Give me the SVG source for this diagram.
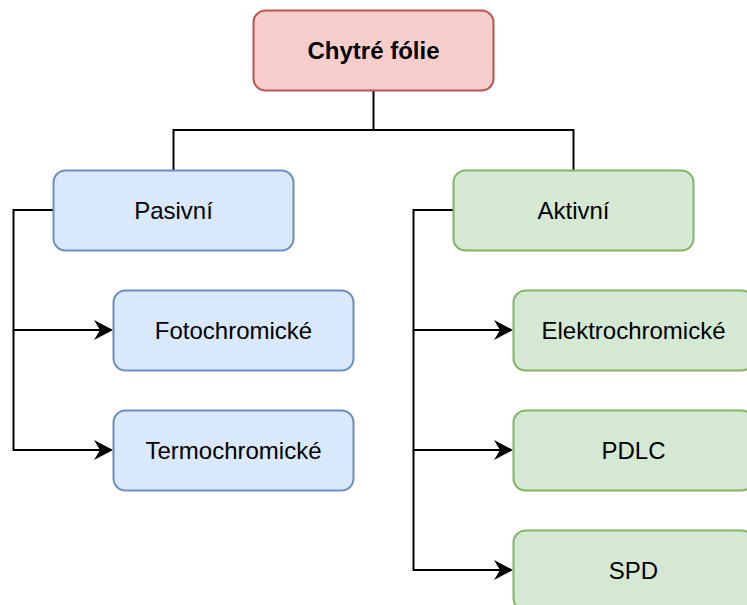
<svg xmlns="http://www.w3.org/2000/svg" width="747" height="605" viewBox="0 0 747 605">
  <style>
    .box { stroke-width: 2; }
    .red { fill: #f8cecc; stroke: #b85450; }
    .blue { fill: #dae8fc; stroke: #6c8ebf; }
    .green { fill: #d5e8d4; stroke: #82b366; }
    .lbl { font-family: "Liberation Sans", Arial, Helvetica, sans-serif; font-size: 24px; fill: #000; text-anchor: middle; }
    .bold { font-weight: bold; }
    .edge { fill: none; stroke: #000; stroke-width: 2; }
  </style>
  <defs>
    <marker id="arrow" markerUnits="userSpaceOnUse" markerWidth="20" markerHeight="22" viewBox="0 0 20 22" refX="6" refY="11" orient="auto">
      <path d="M0,1 L19,11 L0,21 L6,11 Z" fill="#000"/>
    </marker>
  </defs>
  <rect width="747" height="605" fill="#fff"/>

  <g id="connectors">
    <path class="edge" d="M373.5,90 V130 M173.5,170 V130 H573.5 V170"/>
    <path class="edge" d="M53,210 H13.5 V330 H100" marker-end="url(#arrow)"/>
    <path class="edge" d="M13.5,330 V450 H100" marker-end="url(#arrow)"/>
    <path class="edge" d="M453,210 H413.5 V330 H500" marker-end="url(#arrow)"/>
    <path class="edge" d="M413.5,330 V450 H500" marker-end="url(#arrow)"/>
    <path class="edge" d="M413.5,450 V570 H500" marker-end="url(#arrow)"/>
  </g>

  <g id="chytre-folie">
    <rect class="box red" x="253.5" y="10.5" width="240" height="80" rx="12"/>
    <text class="lbl bold" x="373.5" y="59">Chytré fólie</text>
  </g>
  <g id="pasivni">
    <rect class="box blue" x="53.5" y="170.5" width="240" height="80" rx="12"/>
    <text class="lbl" x="173.5" y="219">Pasivní</text>
  </g>
  <g id="fotochromicke">
    <rect class="box blue" x="113.5" y="290.5" width="240" height="80" rx="12"/>
    <text class="lbl" x="233.5" y="339">Fotochromické</text>
  </g>
  <g id="termochromicke">
    <rect class="box blue" x="113.5" y="410.5" width="240" height="80" rx="12"/>
    <text class="lbl" x="233.5" y="459">Termochromické</text>
  </g>
  <g id="aktivni">
    <rect class="box green" x="453.5" y="170.5" width="240" height="80" rx="12"/>
    <text class="lbl" x="573.5" y="219">Aktivní</text>
  </g>
  <g id="elektrochromicke">
    <rect class="box green" x="513.5" y="290.5" width="240" height="80" rx="12"/>
    <text class="lbl" x="633.5" y="339">Elektrochromické</text>
  </g>
  <g id="pdlc">
    <rect class="box green" x="513.5" y="410.5" width="240" height="80" rx="12"/>
    <text class="lbl" x="633.5" y="459">PDLC</text>
  </g>
  <g id="spd">
    <rect class="box green" x="513.5" y="530.5" width="240" height="80" rx="12"/>
    <text class="lbl" x="633.5" y="579">SPD</text>
  </g>
</svg>
